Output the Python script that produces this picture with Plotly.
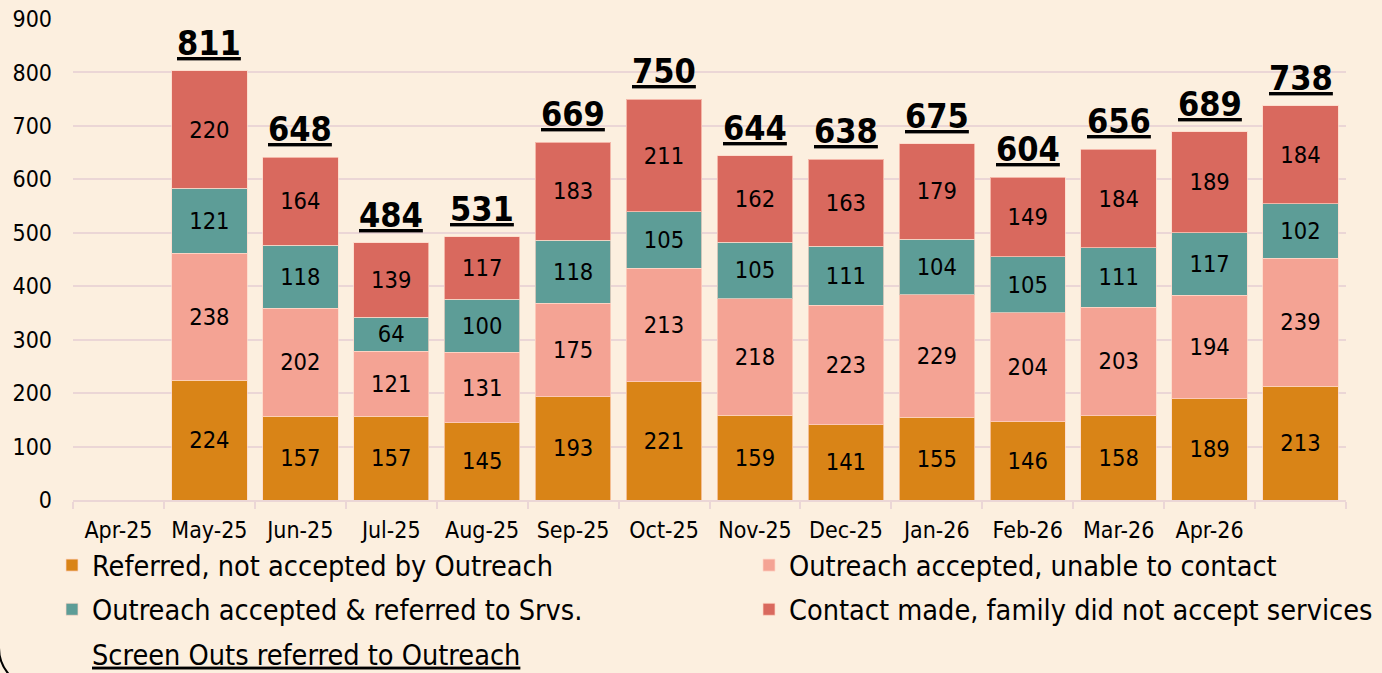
import plotly.graph_objects as go

# ---------------- data ----------------
months = ["Apr-25", "May-25", "Jun-25", "Jul-25", "Aug-25", "Sep-25", "Oct-25",
          "Nov-25", "Dec-25", "Jan-26", "Feb-26", "Mar-26", "Apr-26", "May-26"]
tick_labels = ["Apr-25", "May-25", "Jun-25", "Jul-25", "Aug-25", "Sep-25", "Oct-25",
               "Nov-25", "Dec-25", "Jan-26", "Feb-26", "Mar-26", "Apr-26", ""]

referred_not_accepted = [None, 224, 157, 157, 145, 193, 221, 159, 141, 155, 146, 158, 189, 213]
accepted_unable_contact = [None, 238, 202, 121, 131, 175, 213, 218, 223, 229, 204, 203, 194, 239]
accepted_referred_srvs = [None, 121, 118, 64, 100, 118, 105, 105, 111, 104, 105, 111, 117, 102]
contact_not_accepted = [None, 220, 164, 139, 117, 183, 211, 162, 163, 179, 149, 184, 189, 184]
screen_outs = [None, 811, 648, 484, 531, 669, 750, 644, 638, 675, 604, 656, 689, 738]

series_names = ["Referred, not accepted by Outreach",
                "Outreach accepted, unable to contact",
                "Outreach accepted & referred to Srvs.",
                "Contact made, family did not accept services"]
total_name = "Screen Outs referred to Outreach"

# ---------------- style ----------------
FONT = "DejaVu Sans Condensed, DejaVu Sans, sans-serif"
BG = "#FCEFDF"
GRID = "#EBD6D6"
colors = ["#D98417", "#F4A394", "#5D9D97", "#D9695E"]
legend_of = ["legend", "legend2", "legend", "legend2"]

W, H = 1382, 673
ML, MR, MT, MB = 73, 36, 19, 173

fig = go.Figure()
stack = [referred_not_accepted, accepted_unable_contact, accepted_referred_srvs, contact_not_accepted]
for i, (name, vals, col) in enumerate(zip(series_names, stack, colors)):
    fig.add_trace(go.Bar(
        x=months, y=vals, name=name,
        legend=legend_of[i], legendgroup=f"g{i}",
        marker=dict(color=col, line=dict(color="rgba(255,215,200,0.7)", width=1)),
        text=[("" if v is None else str(v)) for v in vals],
        textposition="inside", insidetextanchor="middle",
        textangle=0, constraintext="none",
        insidetextfont=dict(family=FONT, size=23.5, color="black"),
        hoverinfo="skip",
    ))

# stacked bar tops (for label placement)
bar_tops = [None if a is None else a + b + c + d
            for a, b, c, d in zip(*stack)]

# totals labels ("Screen Outs referred to Outreach") above each bar
annotations = []
for m, top, tot in zip(months, bar_tops, screen_outs):
    if tot is None:
        continue
    annotations.append(dict(
        x=m, y=top, xref="x", yref="y", text=f"<b><u>{tot}</u></b>",
        showarrow=False, yanchor="middle", xanchor="center", yshift=28,
        font=dict(family=FONT, size=34, color="black"),
    ))

# legend-only entry for the totals series
fig.add_trace(go.Scatter(
    x=[None], y=[None], mode="lines", name=f"<u>{total_name}</u>",
    legend="legend", legendgroup="g9",
    line=dict(width=0, color="rgba(0,0,0,0)"), hoverinfo="skip",
))

pw = W - ML - MR
ph = H - MT - MB


def px2paper(px, py):
    return (px - ML) / pw, (H - MB - py) / ph


# rounded border corner (bottom-left of chart area)
r = 40
x0, yb = -1, 688
k = 0.5523 * r
pts = [(x0, 560), (x0, yb - r), (x0, yb - r + k), (x0 + r - k, yb), (x0 + r, yb), (300, yb)]
pp = [px2paper(*p) for p in pts]
path = (f"M {pp[0][0]},{pp[0][1]} L {pp[1][0]},{pp[1][1]} "
        f"C {pp[2][0]},{pp[2][1]} {pp[3][0]},{pp[3][1]} {pp[4][0]},{pp[4][1]} "
        f"L {pp[5][0]},{pp[5][1]}")

legend_common = dict(
    orientation="v", xanchor="left", yanchor="top",
    font=dict(family=FONT, size=28.6, color="black"),
    bgcolor="rgba(0,0,0,0)", tracegroupgap=4, traceorder="grouped",
)
lx1, _ = px2paper(52, 0)
lx2, _ = px2paper(749, 0)
_, ly = px2paper(0, 540)

fig.update_layout(
    width=W, height=H,
    margin=dict(l=ML, r=MR, t=MT, b=MB, pad=0, autoexpand=False),
    barmode="stack", bargap=0.17,
    paper_bgcolor=BG, plot_bgcolor=BG,
    font=dict(family=FONT, size=23, color="black"),
    showlegend=True,
    legend=dict(x=lx1, y=ly, **legend_common),
    legend2=dict(x=lx2, y=ly, **legend_common),
    annotations=annotations,
    shapes=[dict(type="path", xref="paper", yref="paper", path=path,
                 line=dict(color="black", width=2), layer="above")],
)

fig.update_xaxes(
    type="category", categoryorder="array", categoryarray=months,
    range=[-0.5, len(months) - 0.5],
    tickmode="array", tickvals=months, ticktext=tick_labels,
    showline=True, linecolor=GRID, linewidth=2,
    ticks="outside", tickson="boundaries", ticklen=7, tickcolor=GRID, tickwidth=2,
    showgrid=False, ticklabelstandoff=8,
    tickfont=dict(family=FONT, size=23, color="black"),
)
fig.update_yaxes(
    range=[0, 900], dtick=100, tick0=0,
    showgrid=True, gridcolor=GRID, gridwidth=2,
    zeroline=False, showline=False, ticks="",
    ticklabelstandoff=20,
    tickfont=dict(family=FONT, size=23, color="black"),
)

fig.write_html("out.html", config={"displayModeBar": False},
               post_script="document.body.style.margin='0';document.body.style.overflow='hidden';")
